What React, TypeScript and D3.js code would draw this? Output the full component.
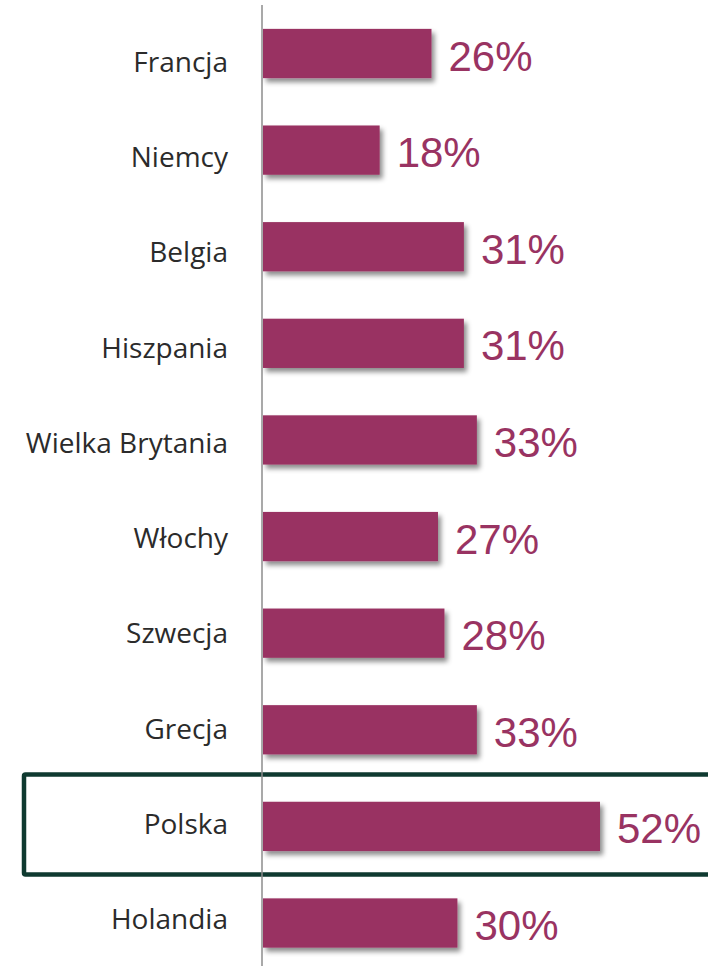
import React, { useEffect, useRef } from 'react';
import * as d3 from 'd3';

const countries = ['Francja', 'Niemcy', 'Belgia', 'Hiszpania', 'Wielka Brytania', 'Włochy', 'Szwecja', 'Grecja', 'Polska', 'Holandia'];
const shares = [26, 18, 31, 31, 33, 27, 28, 33, 52, 30];
const highlighted = 'Polska';

function App() {
  const svgRef = useRef<SVGSVGElement | null>(null);

  useEffect(() => {
    const width = 708;
    const height = 966;
    const x0 = 262;

    const svg = d3.select(svgRef.current);
    svg.selectAll('*').remove();

    const defs = svg.append('defs');
    const filter = defs.append('filter')
      .attr('id', 'shadow')
      .attr('x', '-10%').attr('y', '-20%')
      .attr('width', '130%').attr('height', '160%');
    filter.append('feDropShadow')
      .attr('dx', 3).attr('dy', 4)
      .attr('stdDeviation', 2.5)
      .attr('flood-color', '#000')
      .attr('flood-opacity', 0.45);

    const y = d3.scaleBand()
      .domain(countries)
      .range([5.2, 971.3])
      .paddingInner(0.49)
      .paddingOuter(0.245);

    // category labels sit on a slightly tighter spacing than the bars
    const yLabel = d3.scalePoint()
      .domain(countries)
      .range([71.7, 929.3]);

    const x = d3.scaleLinear()
      .domain([0, 52])
      .range([x0 + 1, 600]);

    const data = countries.map((c, i) => ({ country: c, value: shares[i] }));

    // highlight box round Polska
    const hy = y(highlighted)! + y.bandwidth() / 2;
    svg.append('rect')
      .attr('x', 24)
      .attr('y', hy - 52)
      .attr('width', 700)
      .attr('height', 100)
      .attr('fill', 'none')
      .attr('stroke', '#0f3a30')
      .attr('stroke-width', 4.5)
      .attr('rx', 1.5);

    svg.selectAll('rect.bar')
      .data(data)
      .enter()
      .append('rect')
      .attr('class', 'bar')
      .attr('x', x(0))
      .attr('y', d => y(d.country)!)
      .attr('width', d => x(d.value) - x(0))
      .attr('height', y.bandwidth())
      .attr('fill', '#993362')
      .attr('filter', 'url(#shadow)');

    svg.append('line')
      .attr('x1', x0).attr('x2', x0)
      .attr('y1', 5).attr('y2', height)
      .attr('stroke', '#8c8c8c')
      .attr('stroke-width', 1.5);

    svg.selectAll('text.cat')
      .data(data)
      .enter()
      .append('text')
      .attr('class', 'cat')
      .attr('x', 228)
      .attr('y', d => yLabel(d.country)!)
      .attr('text-anchor', 'end')
      .attr('font-family', "'Open Sans', sans-serif")
      .attr('font-size', 28)
      .attr('fill', '#2b2b2b')
      .text(d => d.country);

    svg.selectAll('text.val')
      .data(data)
      .enter()
      .append('text')
      .attr('class', 'val')
      .attr('x', d => x(d.value) + 17)
      .attr('y', d => y(d.country)! + y.bandwidth() / 2 + 17)
      .attr('font-family', "'Liberation Sans', Arial, sans-serif")
      .attr('font-size', 42)
      .attr('fill', '#993362')
      .text(d => d.value + '%');

    svg.attr('width', width).attr('height', height);
  }, []);

  return (
    <svg ref={svgRef} width={708} height={966}
      style={{ position: 'absolute', left: 0, top: 0, background: '#fff' }} />
  );
}

export default App;
